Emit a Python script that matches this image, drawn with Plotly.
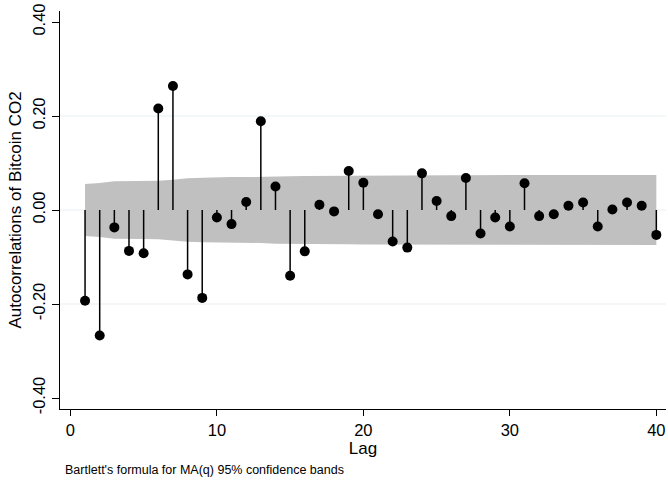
import plotly.graph_objects as go

lags = list(range(1, 41))
acf = [-0.193, -0.267, -0.037, -0.087, -0.092, 0.216, 0.264, -0.137, -0.187, -0.016,
       -0.030, 0.017, 0.189, 0.050, -0.140, -0.088, 0.011, -0.003, 0.083, 0.058,
       -0.009, -0.067, -0.080, 0.078, 0.019, -0.013, 0.068, -0.050, -0.016, -0.035,
       0.057, -0.013, -0.009, 0.009, 0.016, -0.035, 0.001, 0.016, 0.009, -0.053]
band = [0.0555, 0.0575, 0.0612, 0.0613, 0.0617, 0.0621, 0.0644, 0.0676, 0.0685, 0.0700,
        0.0700, 0.0701, 0.0701, 0.0716, 0.0717, 0.0726, 0.0729, 0.0729, 0.0729, 0.0732,
        0.0734, 0.0734, 0.0736, 0.0739, 0.0741, 0.0741, 0.0742, 0.0743, 0.0743, 0.0743,
        0.0744, 0.0744, 0.0744, 0.0744, 0.0744, 0.0744, 0.0744, 0.0744, 0.0745, 0.0745]
y_ticks = [-0.4, -0.2, 0.0, 0.2, 0.4]
y_tick_text = ["-0.40", "-0.20", "0.00", "0.20", "0.40"]
x_ticks = [0, 10, 20, 30, 40]

FONT = "Liberation Sans, Arial, Helvetica, sans-serif"

fig = go.Figure()

# confidence band
fig.add_trace(go.Scatter(
    x=lags + lags[::-1],
    y=band + [-b for b in band[::-1]],
    fill="toself", fillcolor="#c0c0c0", mode="lines",
    line=dict(width=0, color="#c0c0c0"), hoverinfo="skip", showlegend=False))

# stems
sx, sy = [], []
for l, r in zip(lags, acf):
    sx += [l, l, None]
    sy += [0, r, None]
fig.add_trace(go.Scatter(x=sx, y=sy, mode="lines",
                         line=dict(color="black", width=1.5), showlegend=False))

# markers
fig.add_trace(go.Scatter(x=lags, y=acf, mode="markers",
                         marker=dict(color="black", size=10), showlegend=False))

# horizontal gridlines (not at the outer ticks)
for v in y_ticks[1:-1]:
    fig.add_shape(type="line", xref="paper", yref="y", x0=0, x1=1, y0=v, y1=v,
                  line=dict(color="#e8eff2", width=1), layer="below")

fig.update_layout(
    width=668, height=483,
    margin=dict(l=60, r=2, t=11, b=74),
    paper_bgcolor="white", plot_bgcolor="white",
    font=dict(family=FONT, color="black", size=16),
    showlegend=False,
    xaxis=dict(range=[-0.71, 40.66], tickvals=x_ticks, ticks="outside", ticklen=6,
               tickwidth=1, tickcolor="black", showline=True, linecolor="black",
               linewidth=1, showgrid=False, zeroline=False,
               tickfont=dict(size=16.5),
               title=dict(text="Lag", font=dict(size=17), standoff=0)),
    yaxis=dict(range=[-0.4234, 0.4234], tickvals=y_ticks, ticktext=y_tick_text,
               ticks="outside", ticklen=7, tickwidth=1, tickcolor="black",
               showline=True, linecolor="black", linewidth=1, showgrid=False,
               zeroline=False, tickangle=-90, tickfont=dict(size=16.5),
               title=dict(text="Autocorrelations of Bitcoin CO2", font=dict(size=17),
                          standoff=4)),
)

fig.add_annotation(text="Bartlett's formula for MA(q) 95% confidence bands",
                   xref="paper", yref="paper", x=0, y=0, xanchor="left", yanchor="middle",
                   xshift=3, yshift=-61, showarrow=False, font=dict(size=12.5))

fig.write_html("out.html")
